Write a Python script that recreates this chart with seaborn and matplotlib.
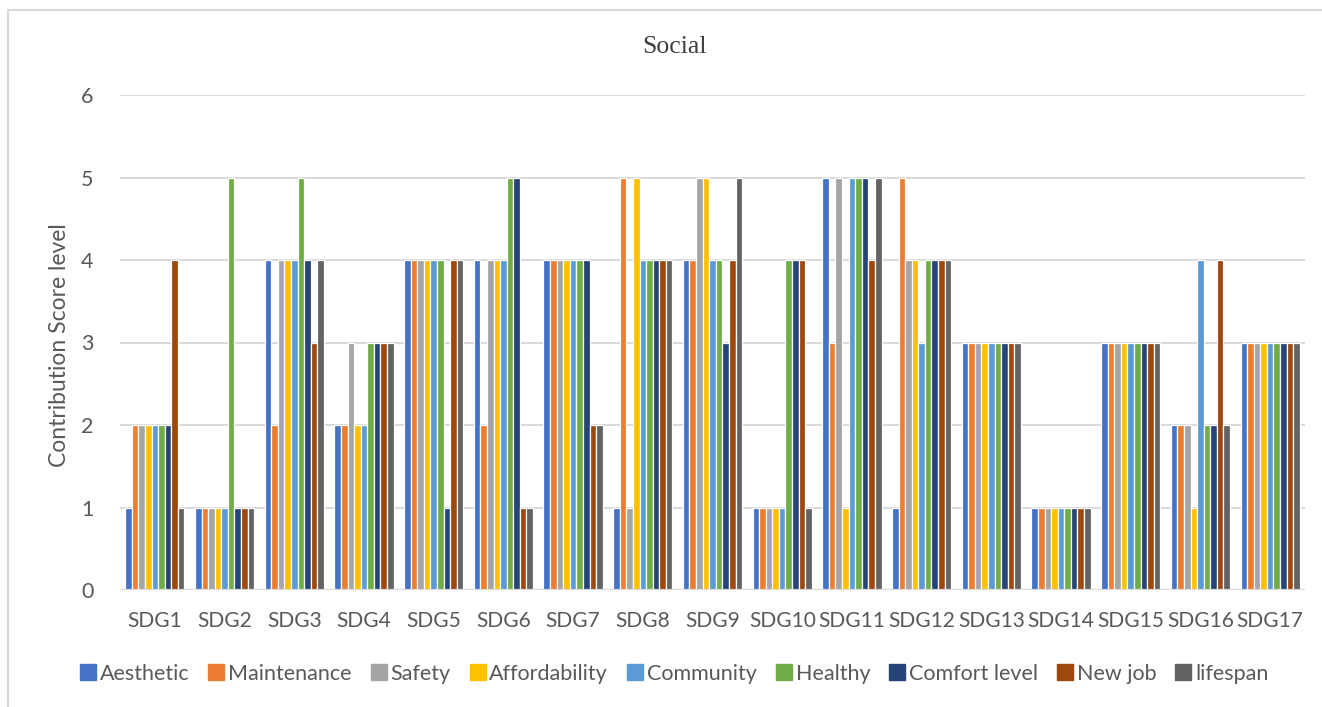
import matplotlib
matplotlib.use("Agg")
import matplotlib.pyplot as plt
import seaborn as sns
import pandas as pd
from matplotlib.lines import Line2D

# Contribution scores per SDG for each social indicator
sdgs = [f"SDG{i}" for i in range(1, 18)]
aesthetic     = [1, 1, 4, 2, 4, 4, 4, 1, 4, 1, 5, 1, 3, 1, 3, 2, 3]
maintenance   = [2, 1, 2, 2, 4, 2, 4, 5, 4, 1, 3, 5, 3, 1, 3, 2, 3]
safety        = [2, 1, 4, 3, 4, 4, 4, 1, 5, 1, 5, 4, 3, 1, 3, 2, 3]
affordability = [2, 1, 4, 2, 4, 4, 4, 5, 5, 1, 1, 4, 3, 1, 3, 1, 3]
community     = [2, 1, 4, 2, 4, 4, 4, 4, 4, 1, 5, 3, 3, 1, 3, 4, 3]
healthy       = [2, 5, 5, 3, 4, 5, 4, 4, 4, 4, 5, 4, 3, 1, 3, 2, 3]
comfort_level = [2, 1, 4, 3, 1, 5, 4, 4, 3, 4, 5, 4, 3, 1, 3, 2, 3]
new_job       = [4, 1, 3, 3, 4, 1, 2, 4, 4, 4, 4, 4, 3, 1, 3, 4, 3]
lifespan      = [1, 1, 4, 3, 4, 1, 2, 4, 5, 1, 5, 4, 3, 1, 3, 2, 3]

series_names = ["Aesthetic", "Maintenance", "Safety", "Affordability", "Community",
                "Healthy", "Comfort level", "New job", "lifespan"]
series_values = [aesthetic, maintenance, safety, affordability, community,
                 healthy, comfort_level, new_job, lifespan]
colors = ["#4472C4", "#ED7D31", "#A5A5A5", "#FFC000", "#5B9BD5",
          "#70AD47", "#264478", "#9E480E", "#636363"]

rows = []
for name, vals in zip(series_names, series_values):
    for sdg, v in zip(sdgs, vals):
        rows.append({"SDG": sdg, "Indicator": name, "Score": v})
df = pd.DataFrame(rows)

sns.set_theme(style="white")
plt.rcParams["font.family"] = ["Lato", "DejaVu Sans"]
text_color = "#595959"
grid_color = "#D9D9D9"
fs = 15.5

W, H = 1322, 707
fig = plt.figure(figsize=(W / 100, H / 100), dpi=100)
ax = fig.add_axes([120 / W, 1 - 590 / H, 1185 / W, 495 / H])

sns.barplot(data=df, x="SDG", y="Score", hue="Indicator", order=sdgs,
            hue_order=series_names, palette=colors, width=0.85,
            edgecolor="white", linewidth=0.9, saturation=1, ax=ax, zorder=3)

ax.set_ylim(0, 6)
ax.set_xlim(-0.5, len(sdgs) - 0.5)
ax.set_yticks(range(0, 7))
ax.yaxis.grid(True, color=grid_color, linewidth=1.4, zorder=0)
ax.set_axisbelow(True)
for s in ax.spines.values():
    s.set_visible(False)
ax.axhline(0, color=grid_color, linewidth=1.6, zorder=4)
ax.tick_params(axis="both", length=0, labelsize=fs, colors=text_color)
ax.tick_params(axis="x", labelsize=15)
ax.tick_params(axis="y", pad=19)
ax.tick_params(axis="x", pad=15)
ax.set_xlabel("")
ax.set_ylabel("")

fig.text(60 / W, 1 - 345 / H, "Contribution Score level", rotation=90,
         ha="center", va="center", fontsize=16.5, color=text_color)
fig.text(675 / W, 1 - 47 / H, "Social", ha="center", va="center",
         fontsize=18.5, color="#404040", family="Liberation Serif")

ax.get_legend().remove()
handles = [Line2D([0], [0], marker="s", linestyle="none", markersize=11,
                  markerfacecolor=c, markeredgecolor=c) for c in colors]
fig.legend(handles, series_names, loc="center", ncol=9,
           bbox_to_anchor=(675 / W, 1 - 674 / H), frameon=False,
           fontsize=fs, labelcolor=text_color, handlelength=0.6,
           handletextpad=0.25, columnspacing=0.95, borderpad=0)

# chart frame
fig.add_artist(Line2D([8 / W, 8 / W], [0, 1 - 10 / H], transform=fig.transFigure,
                      color=grid_color, linewidth=1.5))
fig.add_artist(Line2D([8 / W, 1], [1 - 10 / H, 1 - 10 / H], transform=fig.transFigure,
                      color=grid_color, linewidth=1.5))

fig.savefig("out.png", dpi=100, facecolor="white")
